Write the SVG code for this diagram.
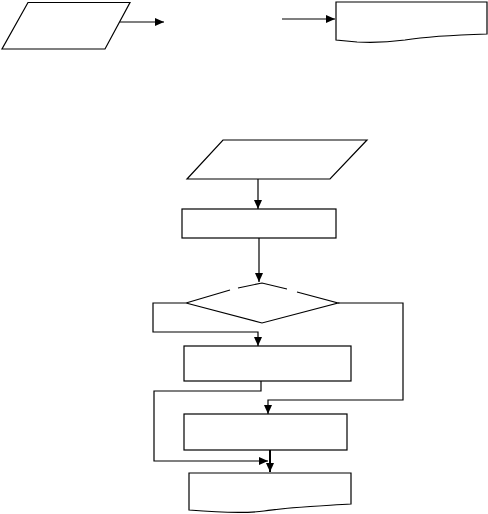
<svg xmlns="http://www.w3.org/2000/svg" width="488" height="514" viewBox="0 0 488 514">
<style>
.s{fill:#fff;stroke:#000;stroke-width:1.2}
.c{fill:none;stroke:#000;stroke-width:1.2}
</style>
<defs>
<marker id="a" markerUnits="userSpaceOnUse" markerWidth="10" markerHeight="10" refX="9" refY="4" orient="auto"><path d="M0,0 L9,4 L0,8 Z" fill="#000"/></marker>
</defs>
<rect width="488" height="514" fill="#fff"/>
<g id="n1"><polygon class="s" points="28,2.5 130,2.5 105,49 2,49"/></g>
<g id="n2"><path class="s" d="M336,2 H487 V34 C455,35 430,36 405,40 C390,42 372,43 357,42 L336,40 Z"/></g>
<g id="n3"><polygon class="s" points="223,140 367,140 330,179 187,179"/></g>
<g id="n4"><rect class="s" x="182" y="209" width="154" height="29"/></g>
<g id="n5"><path class="c" d="M186,303 L262,323 L338,303 L297,292 M287,289 L262,283 L238,288 M230,290 L186,303"/></g>
<g id="n6"><rect class="s" x="184" y="346" width="167" height="35"/></g>
<g id="n7"><rect class="s" x="184" y="414" width="163" height="36"/></g>
<g id="n8"><path class="s" d="M189,473 H351 V504 C320,506 290,507 264,511 C250,513 225,513 189,510 Z"/></g>
<g id="connectors">
<path class="c" d="M120,22 H164" marker-end="url(#a)"/>
<path class="c" d="M282,19 H335" marker-end="url(#a)"/>
<path class="c" d="M258,179 V209" marker-end="url(#a)"/>
<path class="c" d="M259,238 V282" marker-end="url(#a)"/>
<path class="c" d="M186,303 H153 V332 H258 V346" marker-end="url(#a)"/>
<path class="c" d="M338,303 H403 V400 H268 V414" marker-end="url(#a)"/>
<path class="c" d="M261,381 V391 H154 V461 H268" marker-end="url(#a)"/>
<path fill="none" stroke="#000" stroke-width="2" d="M270,450 V472" marker-end="url(#a)"/>
</g>
</svg>
